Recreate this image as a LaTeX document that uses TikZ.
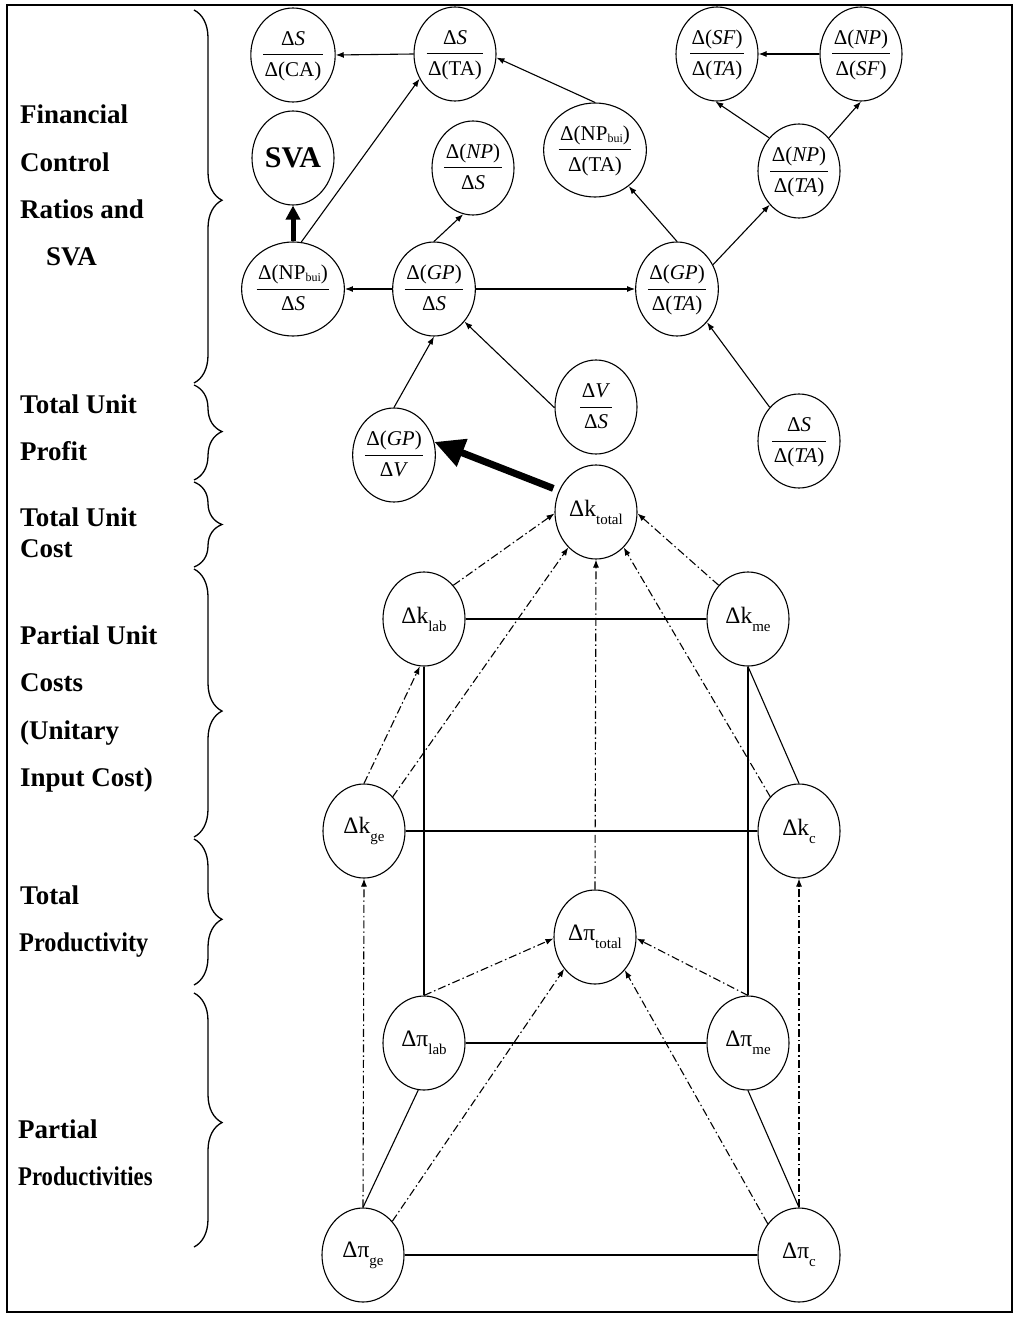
\documentclass[tikz,border=0pt]{standalone}
\usepackage{fontspec}
\setmainfont{Liberation Serif}
\usepackage{graphicx}
\usetikzlibrary{shapes.geometric,arrows.meta,decorations.pathreplacing}

% fraction written as a small two-row table with a rule between
\newcommand{\fr}[2]{{\setlength{\tabcolsep}{1.5pt}\setlength{\arrayrulewidth}{1pt}%
  \renewcommand{\arraystretch}{1.2}\begin{tabular}{c}#1\\\hline #2\end{tabular}}}
% lowered index for the cost / productivity variables
\newcommand{\lo}[1]{\raisebox{-8pt}{\fontsize{15}{15}\selectfont #1}}
% "bui" index of NP
\newcommand{\sbui}{\raisebox{-2pt}{\fontsize{12}{12}\selectfont bui}}

\tikzset{
  lab/.style={anchor=base west, font=\fontsize{27}{30}\selectfont\bfseries, inner sep=0pt},
  ratio/.style={ellipse, draw, line width=1.1pt, minimum width=82pt, minimum height=94pt,
    inner sep=0pt, font=\fontsize{21}{25}\selectfont},
  var/.style={ratio, font=\fontsize{23.5}{26}\selectfont},
  link/.style={line width=1.1pt},
  arr/.style={link, -{Latex[length=8pt,width=6pt]}},
  dd/.style={line width=1.1pt, dash pattern=on 8pt off 3pt on 1.5pt off 3pt},
  ddarr/.style={dd, -{Latex[length=8pt,width=6pt]}},
  bigarr/.style={line width=7pt, -{Triangle[length=30pt,width=28pt]}},
  midarr/.style={line width=5pt, -{Triangle[length=14pt,width=14pt]}},
  brc/.style={decorate, decoration={brace, amplitude=28pt, aspect=#1}, line width=1.3pt},
}

\begin{document}
\begin{tikzpicture}[x=1pt,y=-1pt]
\useasboundingbox (0,0) rectangle (1014,1319);
\fill[white] (0,0) rectangle (1014,1319);
\draw[line width=1.5pt] (7,5) rectangle (1012,1312);

% ---- level labels and braces ----
\node[lab] (t1) at (20,124) {Financial};
\node[lab] (t2) at (20,171) {Control};
\node[lab] (t3) at (20,218) {Ratios and};
\node[lab] (t4) at (46,265) {SVA};
\node[lab] (t5) at (20,413) {Total Unit};
\node[lab] (t6) at (20,460) {Profit};
\node[lab] (t7) at (20,526) {Total Unit};
\node[lab] (t8) at (20,557) {Cost};
\node[lab] (t9) at (20,644) {Partial Unit};
\node[lab] (t10) at (20,691) {Costs};
\node[lab] (t11) at (20,739) {(Unitary};
\node[lab] (t12) at (20,786) {Input Cost)};
\node[lab] (t13) at (20,904) {Total};
\node[lab] (t14) at (19,951) {\scalebox{0.9}[1]{Productivity}};
\node[lab] (t15) at (18,1138) {Partial};
\node[lab] (t16) at (18,1185) {\scalebox{0.84}[1]{Productivities}};

\draw[brc=0.51] (194,10) -- (194,383);
\draw[brc=0.49] (194,385) -- (194,480);
\draw[brc=0.5] (194,482) -- (194,567);
\draw[brc=0.53] (194,569) -- (194,837);
\draw[brc=0.55] (194,839) -- (194,985);
\draw[brc=0.51] (194,993) -- (194,1247);

% ---- financial ratios ----
\node[ratio] (sca) at (293,55) {\fr{Δ\textit{S}}{Δ(CA)}};
\node[ratio] (sta) at (455,54) {\fr{Δ\textit{S}}{Δ(TA)}};
\node[ratio, font=\fontsize{30}{32}\selectfont\bfseries] (sva) at (293,158) {SVA};
\node[ratio] (nps) at (473,168) {\fr{Δ(\textit{NP})}{Δ\textit{S}}};
\node[ratio] (npbta) at (595,150) {\fr{Δ(NP\sbui)}{Δ(TA)}};
\node[ratio] (sfta) at (717,54) {\fr{Δ(\textit{SF})}{Δ(\textit{TA})}};
\node[ratio] (npsf) at (861,54) {\fr{Δ(\textit{NP})}{Δ(\textit{SF})}};
\node[ratio] (npta) at (799,171) {\fr{Δ(\textit{NP})}{Δ(\textit{TA})}};
\node[ratio] (npbs) at (293,289) {\fr{Δ(NP\sbui)}{Δ\textit{S}}};
\node[ratio] (gps) at (434,289) {\fr{Δ(\textit{GP})}{Δ\textit{S}}};
\node[ratio] (gpta) at (677,289) {\fr{Δ(\textit{GP})}{Δ(\textit{TA})}};
\node[ratio] (vs) at (596,407) {\fr{Δ\textit{V}}{Δ\textit{S}}};
\node[ratio] (gpv) at (394,455) {\fr{Δ(\textit{GP})}{Δ\textit{V}}};
\node[ratio] (sta2) at (799,441) {\fr{Δ\textit{S}}{Δ(\textit{TA})}};

\draw[arr] (sta.west) -- (sca.east);
\draw[arr] (npbta.north) -- (sta.355);
\draw[arr] (npbs.80) -- (sta.215);
\draw[midarr] (npbs.north) -- (sva.south);
\draw[arr] (gps.north) -- (nps.258);
\draw[arr] (gps.west) -- (npbs.east);
\draw[arr] (gps.east) -- (gpta.west);
\draw[arr] (gpta.north) -- (npbta.313);
\draw[arr] (gpta.34) -- (npta.229);
\draw[arr] (npta.132) -- (sfta.268);
\draw[arr] (npta.48) -- (npsf.270);
\draw[arr] (npsf.west) -- (sfta.east);
\draw[arr] (gpv.north) -- (gps.south);
\draw[arr] (vs.181) -- (gps.313);
\draw[arr] (sta2.131) -- (gpta.312);

% ---- unit costs ----
\node[var] (ktot) at (596,512) {Δk\lo{total}};
\node[var] (klab) at (424,619) {Δk\lo{lab}};
\node[var] (kme) at (748,619) {Δk\lo{me}};
\node[var] (kge) at (364,831) {Δk\lo{ge}};
\node[var] (kc) at (799,831) {Δk\lo{c}};

% ---- productivities ----
\node[var] (ptot) at (595,937) {Δπ\lo{total}};
\node[var] (plab) at (424,1043) {Δπ\lo{lab}};
\node[var] (pme) at (748,1043) {Δπ\lo{me}};
\node[var] (pge) at (363,1255) {Δπ\lo{ge}};
\node[var] (pc) at (799,1255) {Δπ\lo{c}};

\draw[bigarr, shorten <=6pt] (ktot.150) -- (gpv.18);

\draw[link] (klab.east) -- (kme.west);
\draw[link] (kge.east) -- (kc.west);
\draw[link] (klab.south) -- (plab.north);
\draw[link] (kme.south) -- (pme.north);
\draw[link] (kme.south) -- (kc.north);
\draw[link] (plab.east) -- (pme.west);
\draw[link] (pge.east) -- (pc.west);
\draw[link] (plab.263) -- (pge.north);
\draw[link] (pme.south) -- (pc.north);

\draw[ddarr] (klab.49) -- (ktot.182);
\draw[ddarr] (kme.131) -- (ktot.358);
\draw[ddarr] (kge.50) -- (ktot.232);
\draw[ddarr] (kc.130) -- (ktot.308);
\draw[ddarr] (ptot.north) -- (ktot.south);
\draw[ddarr] (kge.north) -- (klab.265);
\draw[ddarr] (pge.north) -- (kge.south);
\draw[ddarr] (pc.north) -- (kc.south);

\draw[ddarr] (plab.north) -- (ptot.182);
\draw[ddarr] (pme.north) -- (ptot.358);
\draw[ddarr] (pge.49) -- (ptot.226);
\draw[ddarr] (pc.135) -- (ptot.312);
\end{tikzpicture}
\end{document}
